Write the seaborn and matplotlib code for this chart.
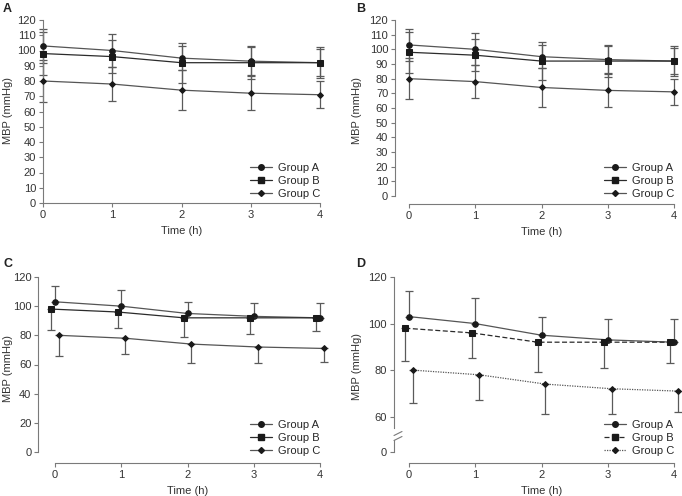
import matplotlib
matplotlib.use('Agg')
import matplotlib.pyplot as plt
import numpy as np
import pandas as pd
import seaborn as sns

# Data (mean and SD of MBP per group)
times = [0, 1, 2, 3, 4]
groups = ['Group A', 'Group B', 'Group C']
mean_a = [103, 100, 95, 93, 92]
mean_b = [98, 96, 92, 92, 92]
mean_c = [80, 78, 74, 72, 71]
sd_a = [11, 11, 8, 9, 10]
sd_b = [14, 11, 13, 11, 9]
sd_c = [14, 11, 13, 11, 9]

means = {'Group A': mean_a, 'Group B': mean_b, 'Group C': mean_c}
sds = {'Group A': sd_a, 'Group B': sd_b, 'Group C': sd_c}

sns.set_style('ticks')
plt.rcParams['font.family'] = ['Liberation Sans', 'DejaVu Sans']
plt.rcParams['font.size'] = 8
plt.rcParams['axes.edgecolor'] = '#7a7a7a'
plt.rcParams['xtick.color'] = '#7a7a7a'
plt.rcParams['ytick.color'] = '#7a7a7a'
plt.rcParams['xtick.labelcolor'] = '#333333'
plt.rcParams['ytick.labelcolor'] = '#333333'
plt.rcParams['axes.labelcolor'] = '#333333'

W, H = 682, 496
fig = plt.figure(figsize=(W / 100, H / 100), dpi=100)


def px(l, t, r, b):
    return [l / W, 1 - b / H, (r - l) / W, (b - t) / H]


markers = {'Group A': 'o', 'Group B': 's', 'Group C': 'D'}
msizes = {'Group A': 4.0, 'Group B': 3.8, 'Group C': 3.0}
line_colors = {'Group A': '#555555', 'Group B': '#2b2b2b', 'Group C': '#555555'}


def make_df(offsets):
    rows = []
    for g in groups:
        for i, t in enumerate(times):
            rows.append({'time': t + offsets[g], 'MBP': means[g][i], 'group': g,
                         'sd': sds[g][i]})
    return pd.DataFrame(rows)


def draw(ax, offsets, sides, dashes):
    df = make_df(offsets)
    for g in groups:
        d = df[df.group == g]
        lo = d.sd.values if sides[g] in ('both', 'down') else np.zeros(len(d))
        hi = d.sd.values if sides[g] in ('both', 'up') else np.zeros(len(d))
        ax.errorbar(d.time, d.MBP, yerr=[lo, hi], fmt='none', ecolor='#5a5a5a',
                    elinewidth=0.9, capsize=2.6, capthick=0.9, clip_on=False, zorder=2)
    sns.lineplot(data=df, x='time', y='MBP', hue='group', style='group',
                 palette=line_colors, markers=markers, dashes=dashes,
                 markeredgecolor='#1a1a1a', linewidth=0.9, ax=ax, legend=False,
                 zorder=3, clip_on=False)
    for line, g in zip(ax.lines[-3:], groups):
        line.set_markerfacecolor('#1a1a1a')
        line.set_markersize(msizes[g])


def add_legend(ax, dashes, anchor):
    handles = []
    for g in groups:
        ls = '-' if dashes[g] == '' else (0, dashes[g])
        h, = ax.plot([], [], color=line_colors[g], linestyle=ls, linewidth=0.9,
                     marker=markers[g], markersize=msizes[g],
                     markerfacecolor='#1a1a1a', markeredgecolor='#1a1a1a')
        handles.append(h)
    ax.legend(handles, groups, loc='lower right', bbox_to_anchor=anchor,
              bbox_transform=fig.transFigure, frameon=False, fontsize=8,
              handlelength=2.0, handletextpad=0.5, labelspacing=0.26,
              borderaxespad=0, borderpad=0)


solid = {g: '' for g in groups}
no_off = {g: 0.0 for g in groups}
dodge = {'Group A': 0.0, 'Group B': -0.055, 'Group C': 0.06}
both = {g: 'both' for g in groups}
one_side = {'Group A': 'up', 'Group B': 'down', 'Group C': 'down'}

# Panel A
axA = fig.add_axes(px(43, 20, 320, 203))
draw(axA, no_off, both, solid)
axA.set_xlim(0, 4)
axA.set_ylim(0, 120)
axA.set_yticks(range(0, 121, 10))
sns.despine(ax=axA)

# Panel B
axB = fig.add_axes(px(409, 20, 674, 196))
draw(axB, no_off, both, solid)
axB.set_xlim(0, 4)
axB.set_ylim(0, 120)
axB.set_yticks(range(0, 121, 10))
sns.despine(ax=axB)
axB.spines['left'].set_position(('outward', 10))
axB.spines['bottom'].set_position(('outward', 6))

# Panel C
axC = fig.add_axes(px(55, 277, 320, 452))
draw(axC, dodge, one_side, solid)
axC.set_xlim(0, 4)
axC.set_ylim(0, 120)
axC.set_yticks(range(0, 121, 20))
sns.despine(ax=axC)
axC.spines['left'].set_position(('outward', 12))
axC.spines['bottom'].set_position(('outward', 8))

# Panel D (broken y axis)
dashD = {'Group A': '', 'Group B': (4, 2), 'Group C': (1, 1)}
axD = fig.add_axes(px(409, 277, 674, 433))
draw(axD, dodge, one_side, dashD)
axD.set_xlim(0, 4)
axD.set_ylim(53, 120)
axD.set_yticks([60, 80, 100, 120])
sns.despine(ax=axD, bottom=True)
axD.spines['left'].set_position(('outward', 11))
axD.spines['left'].set_bounds(55, 120)
axD.set_xticks([])
axD.set_xlabel('')

axD0 = fig.add_axes(px(409, 440, 674, 452))
axD0.set_xlim(0, 4)
axD0.set_ylim(0, 5)
axD0.set_yticks([0])
sns.despine(ax=axD0)
axD0.spines['left'].set_position(('outward', 11))
axD0.spines['bottom'].set_position(('outward', 8))
axD0.patch.set_alpha(0)
# break marks
for yb in (433.5, 438.5):
    fig.add_artist(plt.Line2D([394 / W, 402 / W], [1 - (yb + 2) / H, 1 - (yb - 2) / H],
                              color='#7a7a7a', linewidth=0.8))

for ax in (axA, axB, axC, axD0):
    ax.set_xticks(times)
    ax.set_xlabel('Time (h)', labelpad=4)
for ax in (axA, axB, axC, axD):
    ax.set_ylabel('')
for x, y in [(8, 111), (357, 111), (8, 368), (357, 366)]:
    fig.text(x / W, 1 - y / H, 'MBP (mmHg)', rotation=90, ha='center', va='center',
             color='#333333', fontsize=8)

for ax in (axA, axB, axC, axD, axD0):
    ax.tick_params(length=3, width=0.8, labelsize=8, pad=2)

add_legend(axA, solid, (320 / W, 1 - 199 / H))
add_legend(axB, solid, (674 / W, 1 - 199 / H))
add_legend(axC, solid, (320 / W, 1 - 456 / H))
add_legend(axD, dashD, (674 / W, 1 - 456 / H))

for lbl, x, y in [('A', 3, 9), ('B', 356, 9), ('C', 3, 264), ('D', 356, 264)]:
    fig.text(x / W, 1 - y / H, lbl, fontsize=9, fontweight='bold', va='center',
             color='#222222')

fig.savefig('out.png', dpi=100)
